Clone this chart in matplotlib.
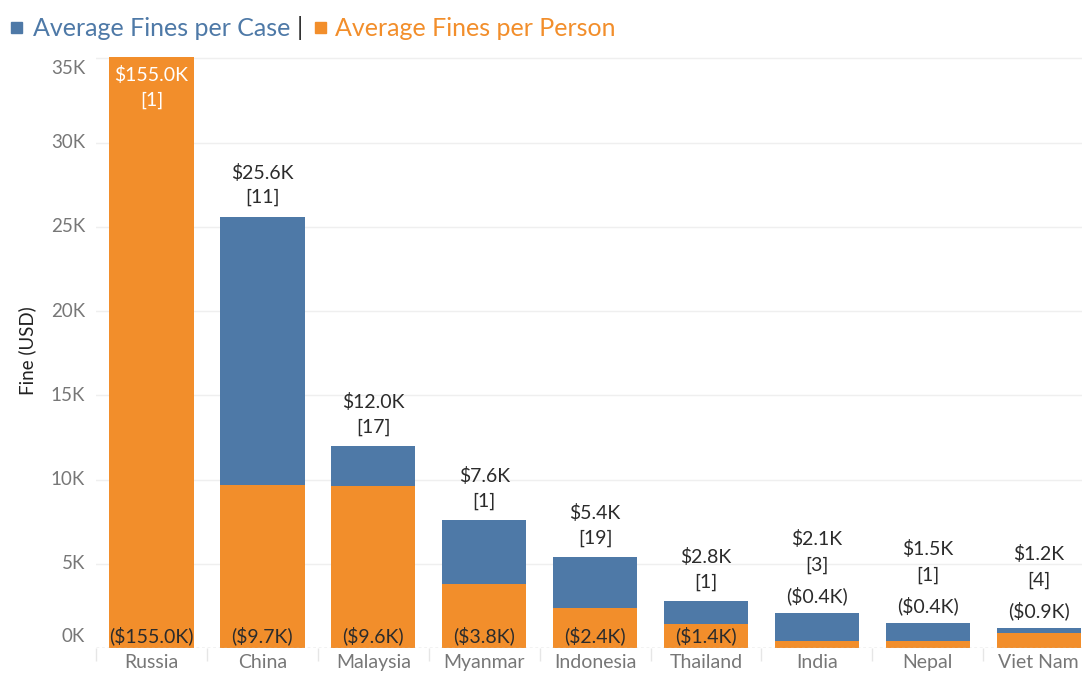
import matplotlib
matplotlib.use("Agg")
import matplotlib.pyplot as plt
from matplotlib.patches import Rectangle
from matplotlib.transforms import blended_transform_factory

countries = ["Russia", "China", "Malaysia", "Myanmar", "Indonesia",
             "Thailand", "India", "Nepal", "Viet Nam"]
per_case = [155.0, 25.6, 12.0, 7.6, 5.4, 2.8, 2.1, 1.5, 1.2]      # K USD
per_person = [155.0, 9.7, 9.6, 3.8, 2.4, 1.4, 0.4, 0.4, 0.9]      # K USD
case_counts = [1, 11, 17, 1, 19, 1, 3, 1, 4]
yticks = [0, 5, 10, 15, 20, 25, 30, 35]

BLUE = "#4e79a7"
ORANGE = "#f28e2b"
TXT = "#2b2b2b"
GRAY = "#777777"
FONT = ["Lato", "DejaVu Sans"]
plt.rcParams["font.family"] = FONT

W, H = 1082, 677
fig = plt.figure(figsize=(W / 100, H / 100), dpi=100)
ax = fig.add_axes([96 / W, (H - 648) / H, (W - 96) / W, (648 - 56.7) / H])

YTOP = 35.1
ax.set_ylim(0, YTOP)
ax.set_xlim(-0.5, 8.39)

x = list(range(len(countries)))
bw = 0.76
ax.bar(x, per_case, width=bw, color=BLUE, zorder=2)
ax.bar(x, per_person, width=bw, color=ORANGE, zorder=3)

# gridlines
for t in yticks[1:]:
    ax.axhline(t, color="#efefef", lw=1, zorder=0)
ax.axhline(0, color="#bdbdbd", lw=1, ls=(0, (2, 2)), zorder=4)

for s in ax.spines.values():
    s.set_visible(False)

# y tick labels drawn manually (Tableau style edge shifting)
ax.set_yticks([])
tr = blended_transform_factory(ax.transAxes, ax.transData)
for t in yticks:
    va = "center"
    y = t
    if t == 0:
        va = "bottom"
        y = 0.2
    elif t == 35:
        va = "top"
        y = YTOP - 0.2
    ax.text(-11 / (W - 96), y, f"{t}K", transform=tr, ha="right", va=va,
            fontsize=13.5, color=GRAY)

# x ticks: labels at centres, separators at boundaries
ax.set_xticks(x)
ax.set_xticklabels(countries, fontsize=14, color=GRAY)
ax.tick_params(axis="x", length=0, pad=4)
ax.set_xticks([i - 0.5 for i in range(len(countries))], minor=True)
ax.tick_params(axis="x", which="minor", length=9, color="#e6e6e6", width=1)

fig.text(27 / W, 1 - 351 / H, "Fine (USD)", rotation=90, ha="center",
         va="center", fontsize=13.5, color="#222222")

pt = 0.72  # px -> points
FS = 14
for i in x:
    top = max(per_case[i], per_person[i])
    case_lbl = f"${per_case[i]:.1f}K"
    cnt_lbl = f"[{case_counts[i]}]"
    pers_lbl = f"(${per_person[i]:.1f}K)"
    if top > YTOP:
        ax.annotate(case_lbl, xy=(i, YTOP), xytext=(0, -18 * pt), textcoords="offset points",
                    ha="center", va="center", fontsize=FS, color="white", zorder=5)
        ax.annotate(cnt_lbl, xy=(i, YTOP), xytext=(0, -44 * pt), textcoords="offset points",
                    ha="center", va="center", fontsize=FS, color="white", zorder=5)
    inside = per_person[i] >= 1.2
    if inside:
        ax.annotate(pers_lbl, xy=(i, 0), xytext=(0, 12 * pt), textcoords="offset points",
                    ha="center", va="center", fontsize=FS, color=TXT, zorder=5)
        offs = (19, 44)
    else:
        ax.annotate(pers_lbl, xy=(i, top), xytext=(0, 17 * pt), textcoords="offset points",
                    ha="center", va="center", fontsize=FS, color=TXT, zorder=5)
        offs = (47, 74)
    if top <= YTOP:
        ax.annotate(cnt_lbl, xy=(i, top), xytext=(0, offs[0] * pt), textcoords="offset points",
                    ha="center", va="center", fontsize=FS, color=TXT, zorder=5)
        ax.annotate(case_lbl, xy=(i, top), xytext=(0, offs[1] * pt), textcoords="offset points",
                    ha="center", va="center", fontsize=FS, color=TXT, zorder=5)

# legend
ly = 1 - 28 / H
fig.patches.append(Rectangle((11 / W, 1 - 33 / H), 11 / W, 11 / H, color=BLUE,
                             transform=fig.transFigure, figure=fig))
fig.text(33 / W, ly, "Average Fines per Case", color=BLUE, fontsize=18,
         ha="left", va="center")
fig.text(300 / W, ly, "|", color="#333333", fontsize=18, ha="center", va="center")
fig.patches.append(Rectangle((315 / W, 1 - 33 / H), 11 / W, 11 / H, color=ORANGE,
                             transform=fig.transFigure, figure=fig))
fig.text(335 / W, ly, "Average Fines per Person", color=ORANGE, fontsize=18,
         ha="left", va="center")

fig.savefig("out.png", dpi=100, facecolor="white")
